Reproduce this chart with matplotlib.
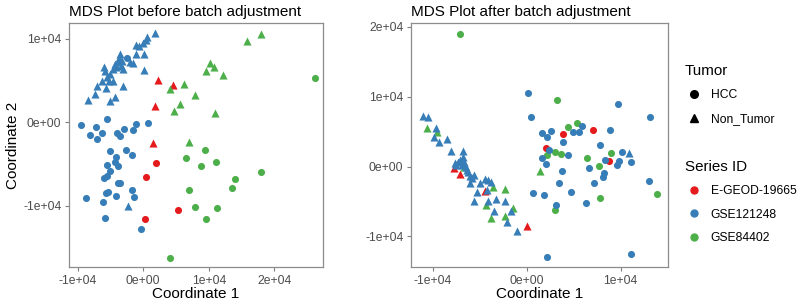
"""MDS plots before / after batch adjustment (Tumor shape, Series ID colour)."""
import matplotlib
matplotlib.use('Agg')
import matplotlib.pyplot as plt
from matplotlib.lines import Line2D

plt.rcParams['font.family'] = ['Liberation Sans', 'DejaVu Sans']

series_names = ['E-GEOD-19665', 'GSE121248', 'GSE84402']
series_colors = ['#E41A1C', '#377EB8', '#4DAF4A']
tumor_names = ['HCC', 'Non_Tumor']
tumor_marks = ['o', '^']

# before: (coord1, coord2) per series / tumor
pre_red_hcc = [(1980, -4840), (460, -6600), (5330, -10520), (300, -11640)]
pre_red_non = [(2280, 5120), (4470, 4520), (1730, 1960), (1420, -2440)]
pre_blue_hcc = [(-2540, 7680), (-9540, -280), (-5530, 400), (-7160, -520), (-8120, -1520),
                (-7110, -2000), (-6240, -1280), (-3960, -1280), (-3550, -1600), (-2940, -840),
                (-1570, -920), (-1070, -200), (710, -120), (-5030, -3480), (-2690, -3280),
                (-1680, -3920), (-4160, -4200), (-5580, -5080), (-4320, -4800), (-3810, -5280),
                (-5990, -6640), (-5080, -5880), (-5480, -6480), (-3910, -7320), (-3550, -7280),
                (-5430, -8320), (-5690, -8520), (-4160, -8880), (-1780, -8080), (-1470, -9000),
                (-8730, -9040), (-6090, -9600), (-5790, -11440), (-310, -12800)]
pre_blue_non = [(1830, 10680), (560, 10280), (360, 9880), (-100, 9480), (-610, 9200),
                (-1120, 9280), (-1170, 8200), (100, 8200), (-1620, 7080), (50, 6280),
                (-3550, 8200), (-3710, 7720), (-3300, 7400), (-3810, 7200), (-4320, 7000),
                (-4160, 6600), (-4570, 6400), (-3150, 6400), (-3450, 6800), (-5940, 6600),
                (-5840, 6200), (-5080, 5800), (-5230, 5000), (-4670, 5000), (-6350, 5000),
                (-7010, 4400), (-5690, 4120), (-7310, 3400), (-8380, 2680), (-3050, 4400),
                (-5080, 2600), (-4320, 3000), (-2340, -10080), (-5480, 5400), (-2030, 7200)]
pre_green_hcc = [(26240, 5320), (9490, -3320), (6500, -4320), (8880, -5280), (11120, -4800),
                 (17920, -5920), (14060, -6840), (13600, -7880), (6950, -8160), (7970, -10160),
                 (11220, -10240), (9590, -11600), (4060, -16240)]
pre_green_non = [(17970, 10640), (15840, 9720), (10250, 7120), (10810, 6680), (9650, 6120),
                 (12180, 5720), (6240, 4600), (4060, 4000), (7970, 3320), (5580, 2160),
                 (4670, 1320), (10910, 1080), (6950, -2400)]

# after
post_red_hcc = [(3820, 4620), (7080, 5240), (2050, 2620), (8740, 810)]
post_red_non = [(-7720, -240), (-7150, -1050), (-4430, -3430), (0, -8570)]
post_blue_hcc = [(180, 10480), (460, 7050), (1590, 4760), (2200, 4290), (2550, 5140),
                 (3890, 3570), (4960, 5000), (5560, 4900), (5840, 5810), (8850, 5240),
                 (9700, 8900), (13100, 7140), (2410, 2380), (1590, 1190), (2020, 330),
                 (4350, 1670), (3790, -620), (640, -3810), (1810, -4050), (3470, -2380),
                 (4670, -3570), (3120, -5480), (6300, -5240), (6660, -240), (7190, -2380),
                 (7790, 3050), (8210, -950), (8070, -1520), (8320, 950), (9560, 240),
                 (9810, 810), (10160, 2050), (11050, 710), (13030, -2000), (2120, -12950),
                 (11050, -12520)]
post_blue_non = [(-11080, 7290), (-10510, 7140), (-9660, 5480), (-9910, 4290), (-9310, 3570),
                 (-8500, 3900), (-8070, 2240), (-6800, 2240), (-6730, 1430), (-7680, 570),
                 (-7360, 670), (-7080, 950), (-6660, 710), (-6900, 240), (-6440, 0),
                 (-6200, -710), (-6020, -1330), (-5840, -1670), (-5660, -1190), (-6020, -2380),
                 (-4960, -2290), (-4430, -1810), (-4070, -1900), (-3820, -2190), (-5310, -3570),
                 (-4250, -3330), (-5560, -4860), (-4070, -4860), (-3290, -4670), (-3430, -6290),
                 (-2340, -4860), (-2090, -8000), (-1630, -6330), (-1060, -9290), (10900, 1900),
                 (-6370, -480), (-7500, 240)]
post_green_hcc = [(-7150, 18950), (3190, 9520), (4350, 5620), (5380, 6190), (3010, 2140),
                  (3610, 1810), (2200, 1670), (6370, 1290), (8920, 1900), (7720, 140),
                  (3010, -6190), (7790, -4430), (13810, -3900)]
post_green_non = [(-10620, 5480), (-9560, 5000), (-6660, 0), (-3540, -2950), (-2270, -3140),
                  (-4320, -5570), (-3750, -7290), (-2340, -7140), (-1490, -5950), (1420, -570)]

pre_groups = [pre_red_hcc, pre_red_non, pre_green_hcc, pre_green_non, pre_blue_hcc, pre_blue_non]
post_groups = [post_red_hcc, post_red_non, post_green_hcc, post_green_non, post_blue_hcc, post_blue_non]
group_series = [0, 0, 2, 2, 1, 1]
group_tumor = [0, 1, 0, 1, 0, 1]

grey = '#4D4D4D'


def panel(ax, groups, title, xlim, ylim, xticks, yticks, ylabel):
    for pts, si, ti in zip(groups, group_series, group_tumor):
        ax.scatter([p[0] for p in pts], [p[1] for p in pts], c=series_colors[si],
                   marker=tumor_marks[ti], s=26 if ti == 0 else 34, linewidths=0, zorder=3)
    ax.set_xlim(*xlim); ax.set_ylim(*ylim)
    ax.set_xticks(xticks); ax.set_yticks(yticks)
    ax.set_xticklabels(['%.0e' % v for v in xticks])
    ax.set_yticklabels(['%.0e' % v for v in yticks])
    ax.tick_params(colors='#7F7F7F', labelcolor=grey, labelsize=8.7, length=3, width=0.8, pad=2.5)
    for s in ax.spines.values():
        s.set_color('#8C8C8C'); s.set_linewidth(0.9)
    ax.set_title(title, loc='left', fontsize=11, pad=5)
    ax.set_xlabel('Coordinate 1', fontsize=11, labelpad=0)
    if ylabel:
        ax.set_ylabel('Coordinate 2', fontsize=11, labelpad=2)


fig = plt.figure(figsize=(8, 3.04), dpi=100)
ax1 = fig.add_axes([0.08625, 0.1217, 0.3175, 0.8026])
ax2 = fig.add_axes([0.51375, 0.1217, 0.32125, 0.8026])
panel(ax1, pre_groups, 'MDS Plot before batch adjustment', (-11320, 27420), (-17360, 11900),
      [-1e4, 0, 1e4, 2e4], [-1e4, 0, 1e4], True)
panel(ax2, post_groups, 'MDS Plot after batch adjustment', (-12310, 15030), (-14380, 20570),
      [-1e4, 0, 1e4], [-1e4, 0, 1e4, 2e4], False)

# legends
h_t = [Line2D([], [], ls='', marker=m, color='black', markersize=5.5) for m in tumor_marks]
h_s = [Line2D([], [], ls='', marker='o', color=c, markersize=5) for c in series_colors]
kw = dict(loc='upper left', frameon=False, alignment='left', fontsize=8.7,
          title_fontsize=10.9, handletextpad=0.55, labelspacing=0.95, handlelength=1.6,
          borderaxespad=0, borderpad=0)
fig.legend(h_t, tumor_names, title='Tumor', bbox_to_anchor=(0.856, 0.79), **kw)
fig.legend(h_s, series_names, title='Series ID', bbox_to_anchor=(0.856, 0.475), **kw)

fig.savefig('out.png', dpi=100)
